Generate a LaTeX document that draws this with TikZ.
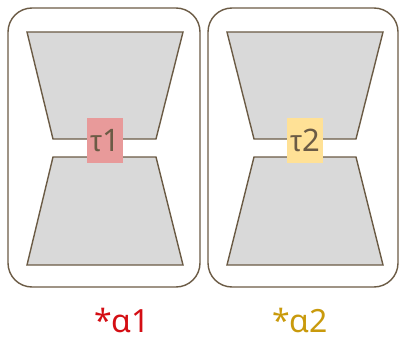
\documentclass[tikz,border=0pt]{standalone}
\usepackage{fontspec}
\setmainfont{Noto Sans}
\newfontfamily\taufont{Liberation Sans}
\begin{document}
\begin{tikzpicture}[x=1pt,y=-1pt,
  edge/.style={draw=lineC,line width=1.4pt,line join=miter},
  frame/.style={edge,rounded corners=24pt},
  trap/.style={edge,fill=grayF},
  tag/.style={minimum width=36pt,minimum height=45pt,inner sep=0pt,text=lineC,font=\fontsize{31}{32}\selectfont},
  caption/.style={font=\fontsize{32}{34}\selectfont,anchor=base,inner sep=0pt}]
\definecolor{lineC}{HTML}{6B5B45}
\definecolor{grayF}{HTML}{D9D9D9}
\definecolor{pinkF}{HTML}{E89A9A}
\definecolor{yelF}{HTML}{FFE196}
\definecolor{redT}{HTML}{D40E14}
\definecolor{goldT}{HTML}{C99A0C}
\useasboundingbox (0,0) rectangle (399,337);
% left
\draw[frame] (8,8) rectangle (200,287);
\draw[trap] (27,32) -- (183,32) -- (156,139) -- (53,139) -- cycle;
\draw[trap] (53,157) -- (156,157) -- (183,265) -- (27,265) -- cycle;
\node[tag,fill=pinkF] (t1) at (105,140.5) {{\taufont\fontsize{30}{30}\selectfont τ}1};
% right
\draw[frame] (208,8) rectangle (398,287);
\draw[trap] (227,32) -- (383,32) -- (356,139) -- (254,139) -- cycle;
\draw[trap] (254,157) -- (356,157) -- (383,265) -- (227,265) -- cycle;
\node[tag,fill=yelF] (t2) at (305,140.5) {{\taufont\fontsize{30}{30}\selectfont τ}2};
% captions
\node[caption,text=redT] (a1) at (122,332.5) {*α1};
\node[caption,text=goldT] (a2) at (300,332.5) {*α2};
\end{tikzpicture}
\end{document}
